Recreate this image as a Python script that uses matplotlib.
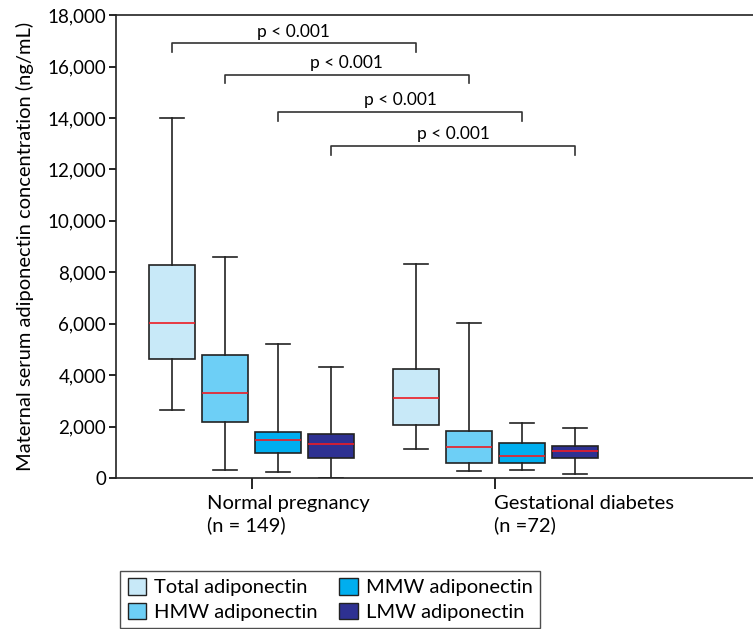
import matplotlib.pyplot as plt
from matplotlib.patches import Patch

# box statistics (ng/mL)
series = ['Total adiponectin', 'HMW adiponectin', 'MMW adiponectin', 'LMW adiponectin']
colors = ['#c8e9f8', '#6dcff6', '#00aeef', '#2e3192']
groups = ['Normal pregnancy\n(n = 149)', 'Gestational diabetes\n(n =72)']

whis_lo = [2650, 310, 230, 10, 1140, 260, 310, 170]
q1 = [4630, 2180, 960, 770, 2060, 570, 600, 790]
median = [6030, 3320, 1480, 1310, 3100, 1210, 870, 1050]
q3 = [8300, 4770, 1790, 1710, 4240, 1820, 1350, 1230]
whis_hi = [14000, 8590, 5210, 4320, 8340, 6020, 2140, 1930]

# significance brackets: (box a, box b, height)
brackets = [(0, 4, 16900), (1, 5, 15680), (2, 6, 14230), (3, 7, 12900)]
p_label = 'p < 0.001'

plt.rcParams['font.family'] = ['Lato', 'DejaVu Sans']
plt.rcParams['font.size'] = 13.5

fig = plt.figure(figsize=(7.53, 6.29), dpi=100)
ax = fig.add_axes([0.154, 0.240, 0.846, 0.736])

positions = [1, 2, 3, 4, 5.6, 6.6, 7.6, 8.6]
stats = []
for i in range(8):
    stats.append(dict(med=median[i], q1=q1[i], q3=q3[i],
                      whislo=whis_lo[i], whishi=whis_hi[i], fliers=[]))

bp = ax.bxp(stats, positions=positions, widths=0.88, capwidths=0.45,
            patch_artist=True, showfliers=False,
            boxprops=dict(edgecolor='#222222', linewidth=1.2),
            whiskerprops=dict(color='#222222', linewidth=1.2),
            capprops=dict(color='#222222', linewidth=1.2),
            medianprops=dict(color='#ed1c24', linewidth=1.2))
for i, box in enumerate(bp['boxes']):
    box.set_facecolor(colors[i % 4])

for a, b, h in brackets:
    xa, xb = positions[a], positions[b]
    ax.plot([xa, xa, xb, xb], [h - 330, h, h, h - 330], color='#333333', lw=1.2)
    ax.text((xa + xb) / 2, h + 150, p_label, ha='center', va='bottom', fontsize=12.5)

ax.set_xlim(-0.057, 11.96)
ax.set_ylim(0, 18000)
ax.set_yticks(range(0, 18001, 2000))
ax.set_yticklabels([f'{v:,}' for v in range(0, 18001, 2000)])
ax.set_xticks([2.5, 7.1])
ax.set_xticklabels([])
ax.tick_params(axis='x', length=8, width=1.2)
ax.tick_params(axis='y', length=5, width=1.2, pad=2)
for s in ['left', 'top', 'bottom']:
    ax.spines[s].set_linewidth(1.2)
    ax.spines[s].set_color('#222222')
ax.spines['right'].set_visible(False)

ax.text(1.66, -650, groups[0], ha='left', va='top', linespacing=1.3, fontsize=14.5)
ax.text(7.08, -650, groups[1], ha='left', va='top', linespacing=1.3, fontsize=14.5)

ax.set_ylabel('Maternal serum adiponectin concentration (ng/mL)', labelpad=10, fontsize=14.5)

handles = [Patch(facecolor=c, edgecolor='#222222', label=s) for c, s in zip(colors, series)]
fig.legend(handles=handles, ncol=2, loc='upper left', bbox_to_anchor=(0.16, 0.092),
           frameon=True, fancybox=False, edgecolor='#222222', handlelength=0.9,
           handleheight=0.9, handletextpad=0.4, columnspacing=1.1, borderpad=0.35,
           labelspacing=0.3, fontsize=14.5, borderaxespad=0)

fig.savefig('out.png', dpi=100)
